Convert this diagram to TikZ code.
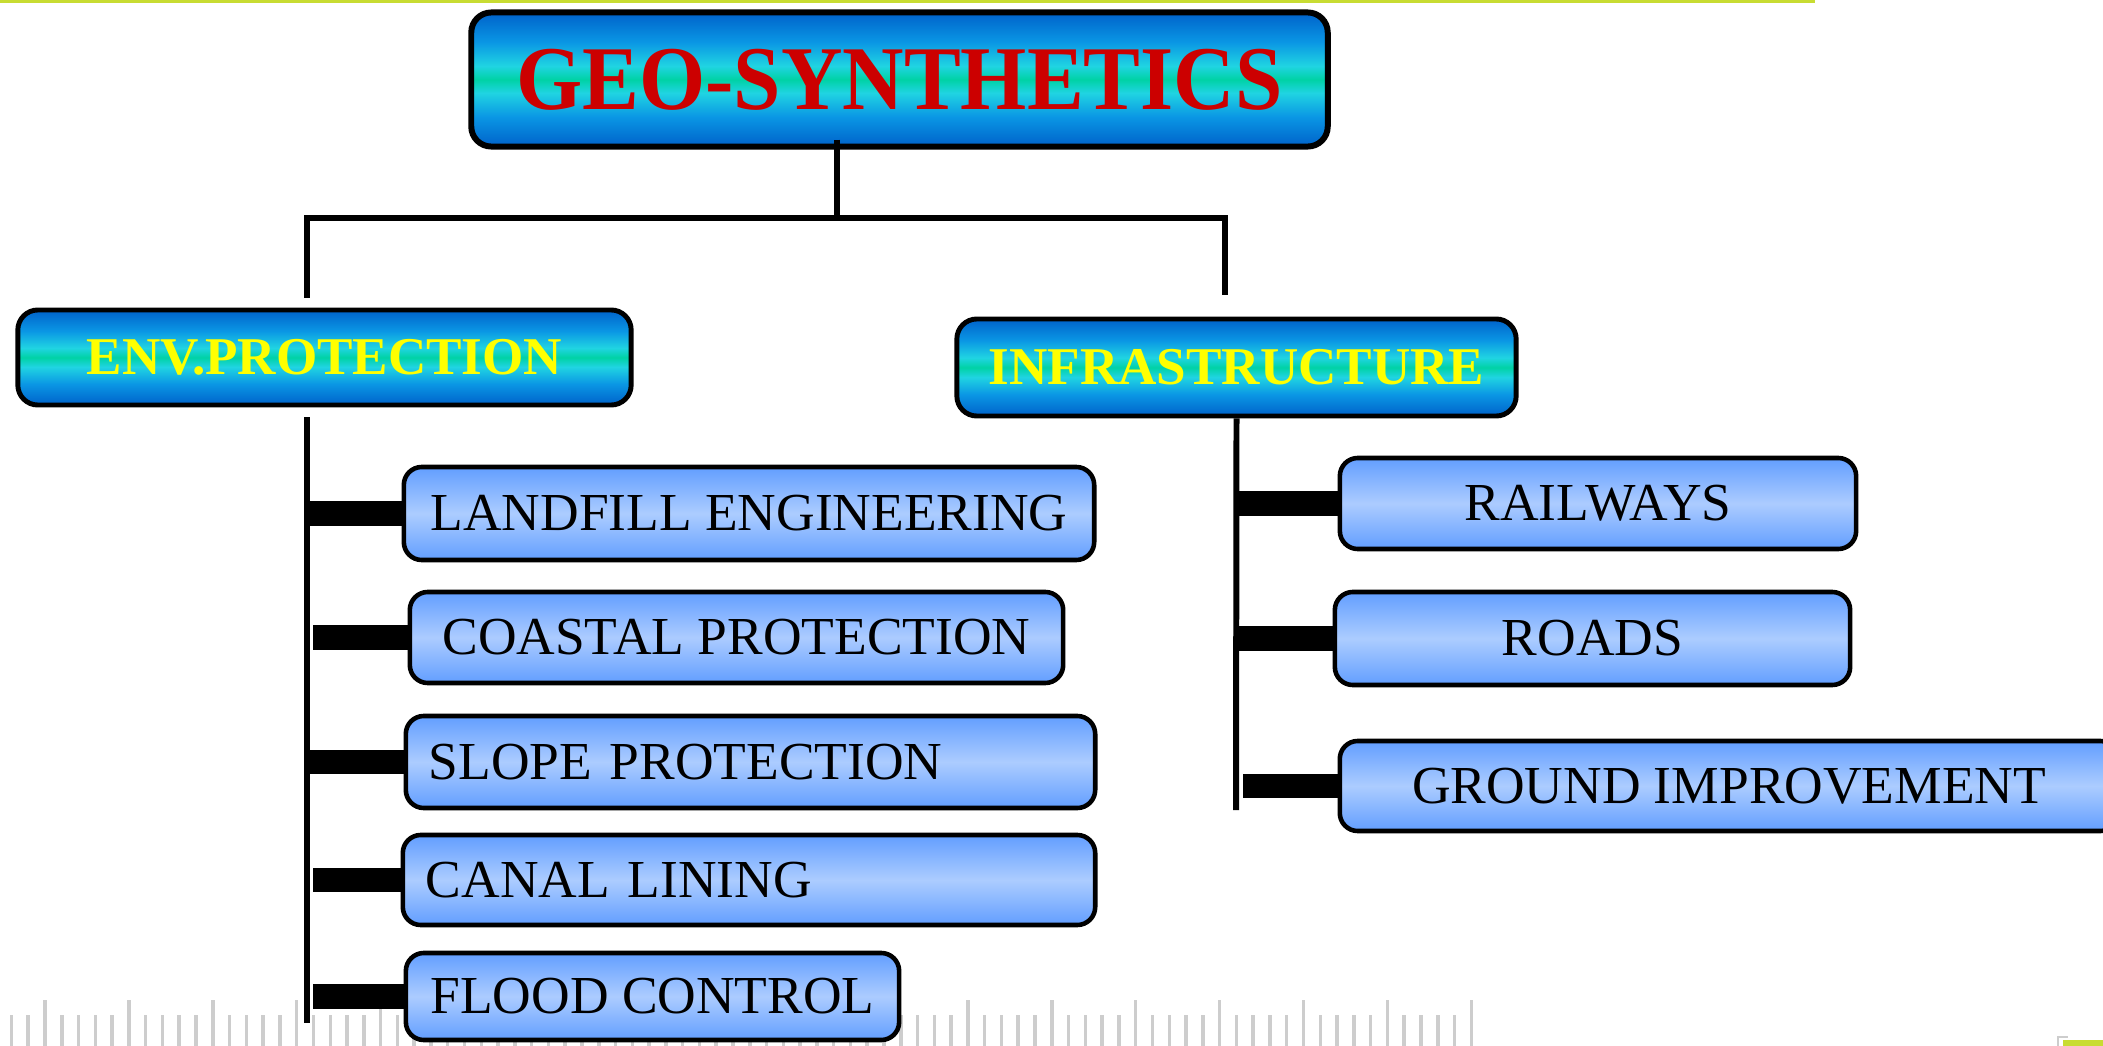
\documentclass[tikz,border=0pt]{standalone}
\usepackage{fontspec}
\setmainfont{Liberation Serif}

\definecolor{mbdark}{RGB}{0,98,202}
\definecolor{mbmid}{RGB}{10,150,228}
\definecolor{mbcyan}{RGB}{32,212,226}
\definecolor{mbgreen}{RGB}{0,210,165}
\definecolor{itemblue}{RGB}{98,158,255}
\definecolor{itemlight}{RGB}{172,204,255}
\definecolor{titlered}{RGB}{204,0,0}
\definecolor{headyellow}{RGB}{255,255,0}
\definecolor{tickgray}{RGB}{205,205,205}
\definecolor{topgreen}{RGB}{200,220,50}

\pgfdeclareverticalshading{headshade}{100bp}{color(0bp)=(mbdark); color(25bp)=(mbdark); color(36bp)=(mbmid); color(45bp)=(mbcyan); color(50bp)=(mbgreen); color(55bp)=(mbcyan); color(64bp)=(mbmid); color(75bp)=(mbdark); color(100bp)=(mbdark)}

\tikzset{
  headbox/.style={draw=black, line width=1.4pt, rounded corners=0.2cm,
    shading=headshade, inner sep=0pt, text=headyellow,
    font=\fontsize{15.1pt}{18pt}\selectfont\bfseries},
  itembox/.style={draw=black, line width=1.3pt, rounded corners=0.18cm,
    top color=itemblue, bottom color=itemblue, middle color=itemlight,
    inner sep=0pt, font=\fontsize{15.2pt}{18pt}\selectfont},
  trunk/.style={line width=1.5pt},
  bar/.style={line width=7pt},
  tick/.style={draw=tickgray, line width=1pt}
}

\begin{document}
\begin{tikzpicture}[x=0.01cm, y=-0.01cm]
  % Fix the page size
  \useasboundingbox (0,0) rectangle (2103,1046);

  % Draw the slide decorations
  \fill[topgreen] (0,0) rectangle (1815,3);
  \foreach \i in {0,...,87}
    \draw[tick] (11.44+16.78*\i,1015) -- (11.44+16.78*\i,1046);
  \foreach \i in {0,...,17}
    \draw[tick] (45+83.9*\i,1000) -- (45+83.9*\i,1046);
  \fill[topgreen] (2063,1040) rectangle (2103,1046);
  \draw[tickgray] (2058,1046) -- (2058,1037) -- (2068,1037);

  % Draw the main boxes
  \node[headbox, text=titlered, line width=1.7pt,
    font=\fontsize{24.2pt}{29pt}\selectfont\bfseries,
    minimum width=8.56cm, minimum height=1.34cm] (title) at (899.5,79.5) {\scalebox{1}[1.07]{GEO-SYNTHETICS}};
  \node[headbox, minimum width=6.13cm, minimum height=0.95cm] (env) at (324.5,357.5) {ENV.PROTECTION};
  \node[headbox, minimum width=5.59cm, minimum height=0.97cm] (infra) at (1236.5,367.5) {INFRASTRUCTURE};

  % Draw the item boxes
  \node[itembox, minimum width=6.9cm, minimum height=0.93cm] (landfill) at (749,513.5) {LANDFILL ENGINEERING};
  \node[itembox, minimum width=6.53cm, minimum height=0.91cm] (coastal) at (736.5,637.5) {COASTAL PROTECTION};
  \node[itembox, text width=6.43cm, align=left, inner xsep=0.23cm,
    minimum height=0.92cm] (slope) at (750.5,762) {SLOPE PROTECTION};
  \node[itembox, text width=6.46cm, align=left, inner xsep=0.23cm,
    minimum height=0.9cm] (canal) at (749,880) {CANAL LINING};
  \node[itembox, minimum width=4.93cm, minimum height=0.87cm] (flood) at (652.5,996.5) {FLOOD CONTROL};
  \node[itembox, minimum width=5.16cm, minimum height=0.91cm] (railways) at (1598,503.5) {RAILWAYS};
  \node[itembox, minimum width=5.15cm, minimum height=0.93cm] (roads) at (1592.5,638.5) {ROADS};
  \node[itembox, minimum width=7.78cm, minimum height=0.9cm] (ground) at (1729,786) {GROUND IMPROVEMENT};

  % Draw the tree lines
  \coordinate (hub) at (837,218);
  \coordinate (envdrop) at (307,298);
  \coordinate (infradrop) at (1225,295);
  \coordinate (envspine) at (307,1023);
  \coordinate (infraspine) at (1236,810);
  \draw[trunk] ([yshift=0.1cm]title.south -| hub) -- (hub);
  \draw[trunk] (hub) -| (envdrop);
  \draw[trunk] (hub) -| (infradrop);
  \draw[trunk] ([yshift=-0.1cm]env.south -| envspine) -- (envspine);
  \draw[trunk, line width=1.7pt] (infra.south) -- (infraspine);

  % Draw the bars to the items
  \draw[bar] (landfill.west -| envspine) -- (landfill.west);
  \draw[bar, shorten <=0.06cm] (coastal.west -| envspine) -- (coastal.west);
  \draw[bar] (slope.west -| envspine) -- (slope.west);
  \draw[bar, shorten <=0.06cm] (canal.west -| envspine) -- (canal.west);
  \draw[bar, shorten <=0.06cm] (flood.west -| envspine) -- (flood.west);
  \draw[bar] (railways.west -| infraspine) -- (railways.west);
  \draw[bar] (roads.west -| infraspine) -- (roads.west);
  \draw[bar, shorten <=0.07cm] (ground.west -| infraspine) -- (ground.west);
\end{tikzpicture}
\end{document}
